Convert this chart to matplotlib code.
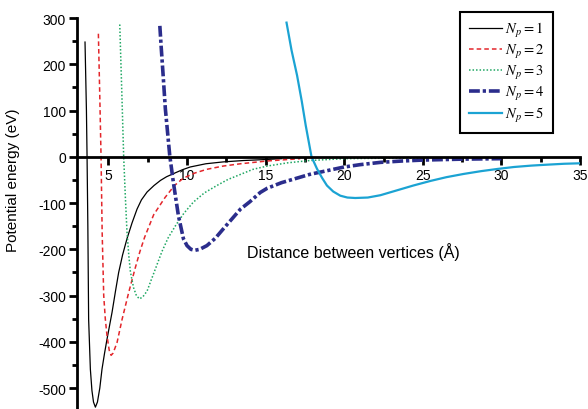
import matplotlib
matplotlib.use('Agg')
import matplotlib.pyplot as plt
from matplotlib.ticker import MultipleLocator

plt.rcParams['font.family'] = ['Liberation Sans', 'DejaVu Sans']
plt.rcParams['mathtext.fontset'] = 'stix'
plt.rcParams['axes.unicode_minus'] = False

# values
x1 = [3.51, 3.60, 3.64, 3.69, 3.74, 3.85, 3.95, 4.05, 4.17, 4.30, 4.45, 4.59, 4.75, 4.91, 5.23, 5.45, 5.65,
      5.90, 6.18, 6.50, 6.82, 7.10, 7.46, 7.90, 8.31, 8.70, 9.16, 9.70, 10.2, 11.2, 12.3, 13.6, 14.9, 16.0]
y1 = [248, 100, 0, -150, -351, -459, -505, -530, -541, -530, -500, -459, -425, -394, -336, -290, -250,
      -212, -177, -143, -113, -93, -76, -62, -51, -43, -36, -28, -22, -15, -11, -8, -6, -4]

x2 = [4.36, 4.45, 4.53, 4.60, 4.70, 4.80, 4.91, 5.05, 5.17, 5.30, 5.55, 5.87, 6.29, 6.69, 7.00, 7.30,
      7.88, 8.60, 9.20, 9.77, 10.5, 11.26, 12.3, 13.4, 15.1, 17.2]
y2 = [266, 130, 0, -162, -300, -350, -387, -418, -429, -424, -401, -351, -293, -242, -205, -174,
      -125, -88, -62, -46, -35, -27, -20, -15, -9, -4]

x3 = [5.72, 5.85, 5.97, 6.08, 6.18, 6.30, 6.40, 6.60, 6.78, 6.97, 7.18, 7.46, 7.70, 7.99, 8.40, 8.80,
      9.30, 9.80, 10.4, 11.1, 11.9, 12.6, 13.4, 14.2, 15.1, 16.4, 17.8, 20.0, 22.5, 25.0]
y3 = [286, 140, 0, -90, -162, -215, -249, -283, -300, -307, -303, -290, -268, -242, -205, -175,
      -147, -122, -98, -78, -62, -49, -38, -27, -20, -13, -8, -4, -3, -3]

x4 = [8.27, 8.35, 8.48, 8.62, 8.90, 9.13, 9.45, 9.77, 10.0, 10.25, 10.5, 10.8, 11.26, 11.8, 12.3, 13.4,
      14.0, 14.66, 15.1, 16.0, 16.8, 17.8, 18.9, 20.0, 21.0, 22.3, 23.7, 25.0, 27.5, 30.0]
y4 = [283, 240, 176, 104, 3, -55, -127, -177, -192, -200, -202, -200, -192, -176, -156, -113,
      -97, -77, -68, -56, -48, -38, -30, -22, -17, -12, -9, -7, -5, -4]

x5 = [16.33, 16.65, 17.0, 17.3, 17.55, 17.92, 18.27, 18.6, 18.9, 19.3, 19.75, 20.2, 20.7, 21.5, 22.3,
      23.3, 24.4, 25.5, 26.5, 27.6, 28.7, 29.8, 30.8, 31.9, 32.9, 34.0, 35.0]
y5 = [290, 230, 176, 120, 68, 0, -26, -46, -62, -75, -84, -88, -89, -88, -83,
      -73, -62, -52, -44, -37, -31, -26, -22, -19, -17, -15, -14]

labels = [r'$N_p = 1$', r'$N_p = 2$', r'$N_p = 3$', r'$N_p = 4$', r'$N_p = 5$']

fig = plt.figure(figsize=(5.88, 4.10), dpi=100)
ax = fig.add_axes([77 / 588, 0.0, (580 - 77) / 588, 391 / 410])

ax.plot(x1, y1, color='black', lw=0.9, label=labels[0])
ax.plot(x2, y2, color='#e3262b', lw=1.1, ls=(0, (3, 2)), label=labels[1])
ax.plot(x3, y3, color='#1fa763', lw=1.1, ls=(0, (1, 1.3)), label=labels[2])
ax.plot(x4, y4, color='#2b2d8c', lw=2.6, ls=(0, (3, 0.8, 0.9, 0.8)), label=labels[3])
ax.plot(x5, y5, color='#1ba3d3', lw=1.6, label=labels[4])

ax.set_xlim(3, 35)
ax.set_ylim(-545, 300)

ax.spines['top'].set_visible(False)
ax.spines['right'].set_visible(False)
ax.spines['bottom'].set_position(('data', 0))
ax.spines['bottom'].set_linewidth(2)
ax.spines['left'].set_linewidth(2)

ax.xaxis.set_major_locator(MultipleLocator(5))
ax.xaxis.set_minor_locator(MultipleLocator(2.5))
ax.yaxis.set_major_locator(MultipleLocator(100))
ax.yaxis.set_minor_locator(MultipleLocator(50))
ax.tick_params(which='major', direction='out', length=6, width=2, labelsize=10, pad=2)
ax.tick_params(which='minor', direction='out', length=3.5, width=2)
ax.set_xticks([5, 10, 15, 20, 25, 30, 35])

ax.set_ylabel('Potential energy (eV)', fontsize=11)
ax.yaxis.set_label_coords(-0.113, 0.588)
ax.set_xlabel('Distance between vertices (Å)', fontsize=11.5)
ax.xaxis.set_label_coords(0.549, 0.427)

leg = ax.legend(loc='upper right', bbox_to_anchor=(0.946, 1.016), fontsize=10.5,
                fancybox=False, edgecolor='black', framealpha=1,
                handlelength=2.3, handletextpad=0.2, labelspacing=0.2,
                borderpad=0.6, borderaxespad=0)
leg.get_frame().set_linewidth(1.5)

fig.savefig('out.png', dpi=100)
